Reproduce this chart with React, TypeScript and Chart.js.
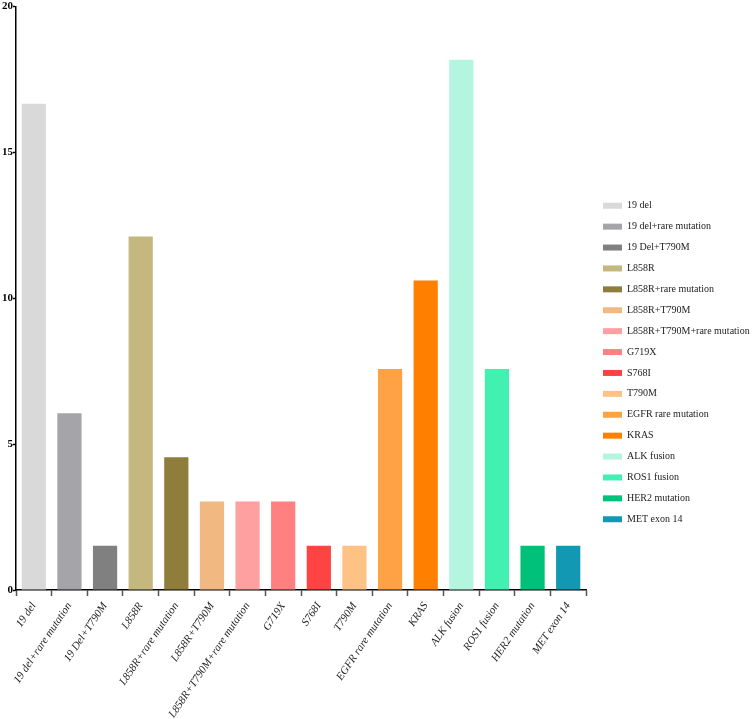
import React, { useEffect, useRef } from "react";
import { Chart, registerables } from "chart.js";

Chart.register(...registerables);

const categories = [
  "19 del",
  "19 del+rare mutation",
  "19 Del+T790M",
  "L858R",
  "L858R+rare mutation",
  "L858R+T790M",
  "L858R+T790M+rare mutation",
  "G719X",
  "S768I",
  "T790M",
  "EGFR rare mutation",
  "KRAS",
  "ALK fusion",
  "ROS1 fusion",
  "HER2 mutation",
  "MET exon 14",
];

const values = [16.67, 6.06, 1.52, 12.12, 4.55, 3.03, 3.03, 3.03, 1.52, 1.52, 7.58, 10.61, 18.18, 7.58, 1.52, 1.52];

const colors = [
  "#D9D9D9",
  "#A5A5A9",
  "#808080",
  "#C4B87E",
  "#8E7D3B",
  "#F2B882",
  "#FFA0A0",
  "#FF8080",
  "#FF4242",
  "#FFC285",
  "#FFA245",
  "#FF8000",
  "#B4F5E0",
  "#42F0B2",
  "#00C17A",
  "#1298B2",
];

const yTicks = [0, 5, 10, 15, 20];

const LEGEND_WIDTH = 167;
const LEGEND_ITEM_X = 603;
const LEGEND_PAD = 10.9;

const legendPlacer = {
  id: "legendPlacer",
  beforeLayout(chart: any) {
    const l = chart.legend;
    if (l && !l.__patched) {
      const f = l.fit;
      l.fit = function (this: any) {
        f.call(this);
        this.width = LEGEND_WIDTH;
      };
      l.__patched = true;
    }
  },
  afterLayout(chart: any) {
    const l = chart.legend;
    if (!l) return;
    l.left = LEGEND_ITEM_X - LEGEND_PAD;
    l.right = chart.width;
  },
};

export default function App() {
  const ref = useRef<HTMLCanvasElement>(null);
  useEffect(() => {
    if (!ref.current) return;
    const serif = "'Liberation Serif', 'Times New Roman', serif";
    const chart = new Chart(ref.current, {
      type: "bar",
      plugins: [legendPlacer],
      data: {
        labels: categories,
        datasets: [
          {
            data: values,
            backgroundColor: colors,
            borderWidth: 0,
            barPercentage: 0.68,
            categoryPercentage: 1,
          },
        ],
      },
      options: {
        animation: false,
        responsive: true,
        maintainAspectRatio: false,
        layout: { padding: { top: 6, right: 0, left: 0, bottom: 0 } },
        plugins: {
          tooltip: { enabled: false },
          legend: {
            position: "right",
            align: "center",
            labels: {
              boxWidth: 19,
              boxHeight: 6,
              padding: LEGEND_PAD,
              color: "#222",
              font: { family: serif, size: 10 },
              generateLabels: () =>
                categories.map((c, i) => ({
                  text: c,
                  fillStyle: colors[i],
                  strokeStyle: colors[i],
                  lineWidth: 0,
                  hidden: false,
                  index: i,
                  fontColor: "#222",
                })),
            },
          },
        },
        scales: {
          x: {
            grid: {
              display: true,
              drawOnChartArea: false,
              drawTicks: true,
              tickLength: 6,
              color: "#555",
              tickWidth: 1.5,
            },
            border: { display: true, color: "#000", width: 1.5 },
            ticks: {
              autoSkip: false,
              minRotation: 56,
              maxRotation: 56,
              padding: 4,
              color: "#222",
              font: { family: serif, size: 11, style: "italic" },
            },
            afterFit: (s: any) => {
              s.height = 129;
            },
          },
          y: {
            min: 0,
            max: 20,
            afterBuildTicks: (s: any) => {
              s.ticks = yTicks.map((v) => ({ value: v }));
            },
            grid: {
              display: true,
              drawOnChartArea: false,
              drawTicks: true,
              tickLength: 3,
              color: "#000",
              tickWidth: 1.5,
            },
            border: { display: true, color: "#000", width: 1.5 },
            ticks: {
              padding: 0,
              color: "#000",
              font: { family: serif, size: 11, weight: "bold" },
            },
            afterFit: (s: any) => {
              s.width = 16;
            },
          },
        },
      },
    });
    return () => chart.destroy();
  }, []);
  return (
    <div style={{ position: "fixed", left: 0, top: 0, width: 753, height: 719, background: "#fff" }}>
      <canvas ref={ref} />
    </div>
  );
}
